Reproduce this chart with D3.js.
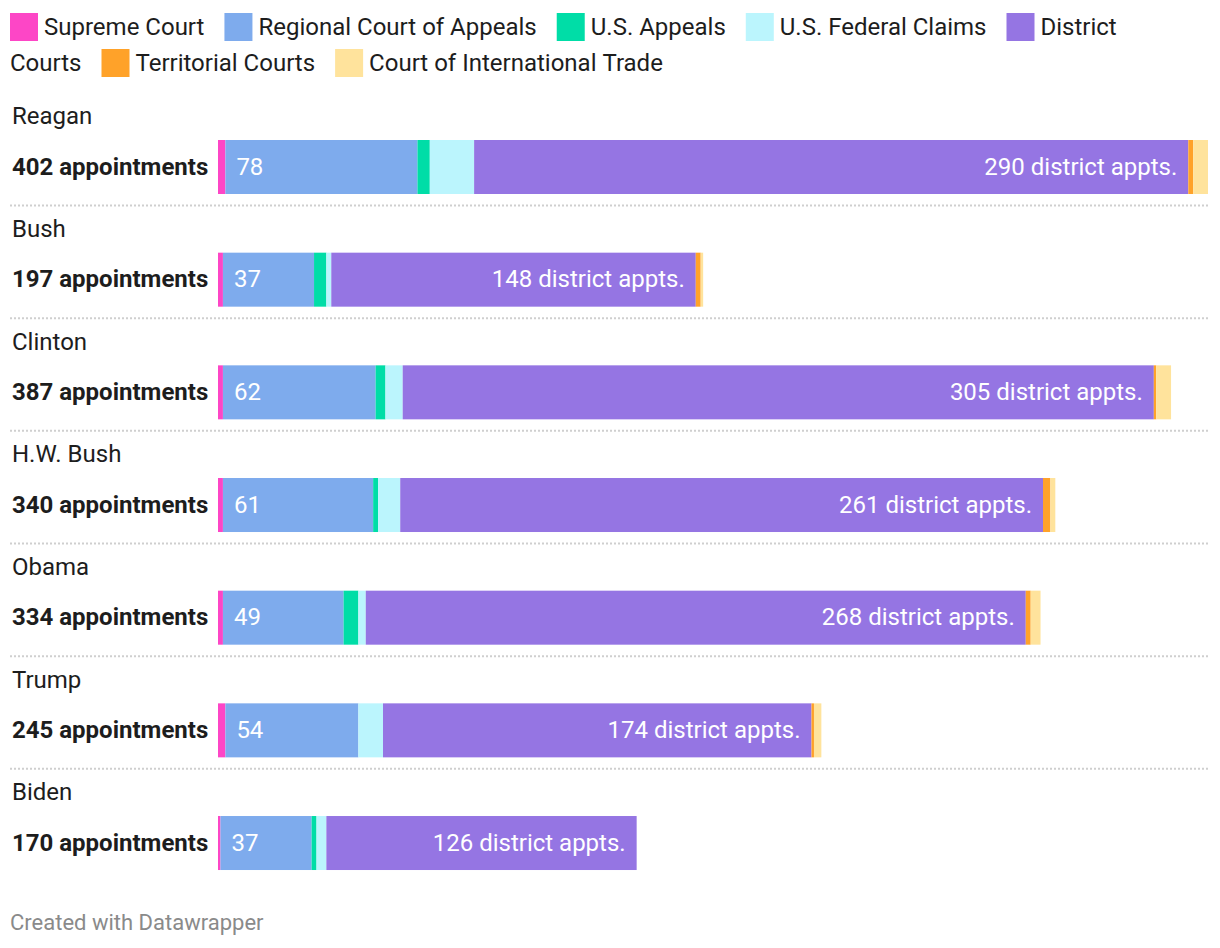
<!DOCTYPE html>
<html>
<head>
<meta charset="utf-8">
<script src="https://cdn.jsdelivr.net/npm/d3@7"></script>
<style>
  html, body { margin: 0; padding: 0; background: #fff; }
  svg { display: block; font-family: Roboto, "Noto Sans", sans-serif; }
</style>
</head>
<body>
<svg id="chart" width="1220" height="948"></svg>
<script>
const presidents = ["Reagan", "Bush", "Clinton", "H.W. Bush", "Obama", "Trump", "Biden"];
const seriesNames = ["Supreme Court", "Regional Court of Appeals", "U.S. Appeals", "U.S. Federal Claims", "District Courts", "Territorial Courts", "Court of International Trade"];
const seriesColors = ["#fd46c6", "#7eabed", "#00dda7", "#bbf5fd", "#9575e3", "#ffa229", "#ffe39c"];
const supremeCourt   = [3, 2, 2, 2, 2, 3, 1];
const regionalAppeals = [78, 37, 62, 61, 49, 54, 37];
const usAppeals      = [5, 5, 4, 2, 6, 0, 2];
const federalClaims  = [18, 2, 7, 9, 3, 10, 4];
const district       = [290, 148, 305, 261, 268, 174, 126];
const territorial    = [2, 2, 1, 3, 2, 1, 0];
const intlTrade      = [6, 1, 6, 2, 4, 3, 0];
const totals         = [402, 197, 387, 340, 334, 245, 170];

const seriesValues = [supremeCourt, regionalAppeals, usAppeals, federalClaims, district, territorial, intlTrade];
const rows = presidents.map((p, i) => {
  const r = { president: p, total: totals[i] };
  seriesNames.forEach((s, j) => r[s] = seriesValues[j][i]);
  return r;
});

const svg = d3.select("#chart");
const FONT = 24;
const textColor = "#1d1d1d";

// ---------- Legend (flow layout with word wrap) ----------
const legendG = svg.append("g");
const legLeft = 10, legMax = 1190, lineH = 36, sq = 28;
let lx = legLeft, ly = 13;
const measurer = svg.append("text").attr("font-size", FONT).attr("visibility", "hidden");
function tw(s) { measurer.text(s); return measurer.node().getComputedTextLength(); }
const spaceW = tw("a a") - tw("aa");
seriesNames.forEach((name, i) => {
  const words = name.split(" ");
  if (lx + sq + 6 + tw(words[0]) > legMax) { lx = legLeft; ly += lineH; }
  legendG.append("rect").attr("x", lx).attr("y", ly).attr("width", sq).attr("height", sq).attr("fill", seriesColors[i]);
  lx += sq + 6;
  words.forEach((w, k) => {
    const wW = tw(w);
    if (k > 0) {
      if (lx + spaceW + wW > legMax) { lx = legLeft; ly += lineH; }
      else lx += spaceW;
    }
    legendG.append("text").attr("x", lx).attr("y", ly + sq / 2).attr("dy", "0.35em")
      .attr("font-size", FONT).attr("fill", textColor).text(w);
    lx += wW;
  });
  lx += 20;
});
measurer.remove();

// ---------- Scales ----------
const x = d3.scaleLinear().domain([0, d3.max(totals)]).range([218, 1208]);
const y = d3.scaleBand().domain(presidents).range([100, 100 + 7 * 112.67]).padding(0);
const barTop = 40, barH = 54;

const stack = d3.stack().keys(seriesNames)(rows);

const rowG = svg.append("g");
// separators
rowG.selectAll("line.sep").data(presidents.slice(0, -1)).join("line")
  .attr("x1", 10).attr("x2", 1208)
  .attr("y1", d => y(d) + 105.5).attr("y2", d => y(d) + 105.5)
  .attr("stroke", "#cfcfcf").attr("stroke-width", 2).attr("stroke-dasharray", "2,2");

// row titles
rowG.selectAll("text.title").data(presidents).join("text")
  .attr("x", 12).attr("y", d => y(d) + 16).attr("dy", "0.35em")
  .attr("font-size", FONT).attr("fill", textColor).text(d => d);

// totals labels
rowG.selectAll("text.total").data(rows).join("text")
  .attr("x", 12).attr("y", d => y(d.president) + barTop + barH / 2).attr("dy", "0.32em")
  .attr("font-size", FONT).attr("font-weight", "bold").attr("fill", textColor)
  .text(d => d.total + " appointments");

// bars
stack.forEach((layer, j) => {
  svg.append("g").attr("fill", seriesColors[j])
    .selectAll("rect").data(layer.filter(d => d[1] > d[0])).join("rect")
    .attr("x", d => x(d[0])).attr("width", d => x(d[1]) - x(d[0]))
    .attr("y", d => y(d.data.president) + barTop).attr("height", barH);
});

// value labels
const appealsLayer = stack[1], districtLayer = stack[4];
svg.append("g").selectAll("text").data(appealsLayer).join("text")
  .attr("x", d => x(d[0]) + 11).attr("y", d => y(d.data.president) + barTop + barH / 2).attr("dy", "0.32em")
  .attr("font-size", FONT).attr("fill", "#fff").text(d => d.data["Regional Court of Appeals"]);
svg.append("g").selectAll("text").data(districtLayer).join("text")
  .attr("x", d => x(d[1]) - 11).attr("y", d => y(d.data.president) + barTop + barH / 2).attr("dy", "0.32em")
  .attr("text-anchor", "end").attr("font-size", FONT).attr("fill", "#fff")
  .text(d => d.data["District Courts"] + " district appts.");

// footer
svg.append("text").attr("x", 10).attr("y", 922).attr("dy", "0.35em")
  .attr("font-size", 22).attr("fill", "#8a8a8a").text("Created with Datawrapper");
</script>
</body>
</html>
